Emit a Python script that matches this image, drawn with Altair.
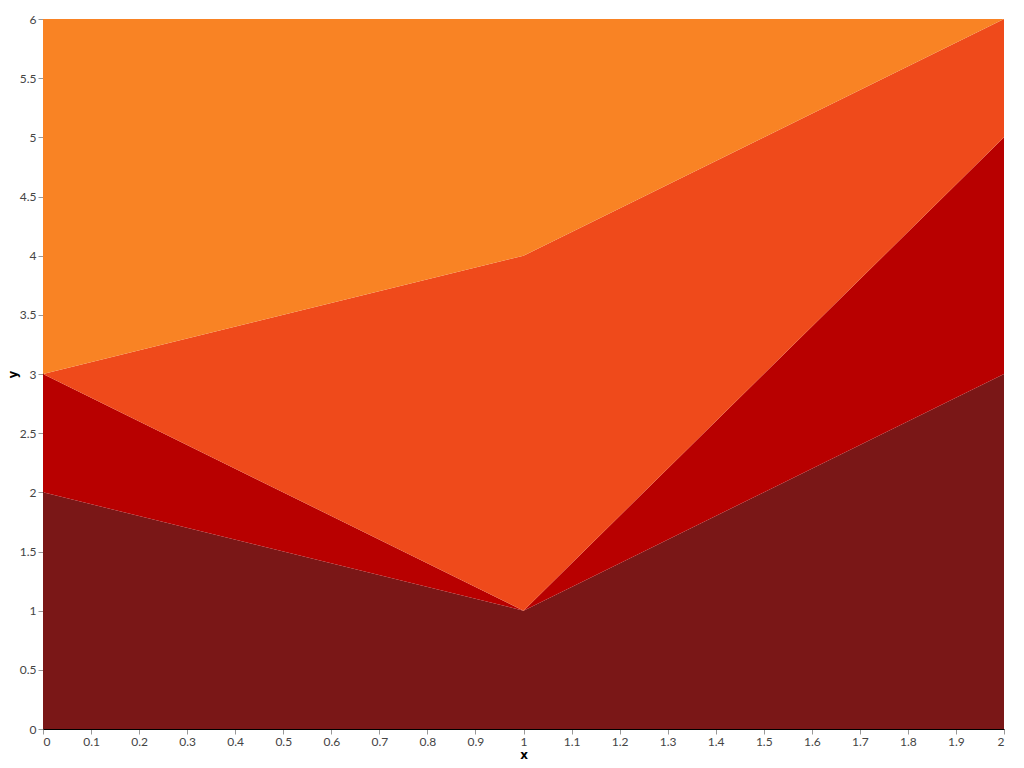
import altair as alt
import pandas as pd

xs = [0, 1, 2]
series = ["s1", "s2", "s3", "s4"]
s1 = [2, 1, 3]
s2 = [1, 0, 2]
s3 = [0, 3, 1]
s4 = [3, 2, 0]
colors = ["#7a1717", "#b80000", "#ef4a1b", "#f98324"]

rows = []
for i, (name, vals) in enumerate(zip(series, [s1, s2, s3, s4])):
    for x, v in zip(xs, vals):
        rows.append({"x": x, "value": v, "series": name, "ord": i})
df = pd.DataFrame(rows)

xticks = [round(i * 0.1, 1) for i in range(21)]
yticks = [round(i * 0.5, 1) for i in range(13)]

axis_common = dict(
    grid=False,
    domainColor="black",
    domainWidth=1,
    tickColor="#999999",
    tickSize=5,
    labelFont="Lato",
    labelFontSize=12,
    labelColor="#444444",
    labelPadding=2,
    titleFont="DejaVu Sans",
    titleFontSize=12,
    titleFontWeight="bold",
    titleColor="black",
)

chart = alt.Chart(df).mark_area(interpolate="linear").encode(
    x=alt.X("x:Q", scale=alt.Scale(domain=[0, 2], nice=False, zero=False),
            axis=alt.Axis(values=xticks, format=".1~f", title="x", titlePadding=2, **axis_common)),
    y=alt.Y("value:Q", stack="zero", scale=alt.Scale(domain=[0, 6], nice=False),
            axis=alt.Axis(values=yticks, format=".1~f", title="y", titleX=-31, titleY=355,
                          titleAngle=270, titleBaseline="middle", **axis_common)),
    color=alt.Color("series:N", scale=alt.Scale(domain=series, range=colors), legend=None),
    order=alt.Order("ord:Q"),
).properties(
    width=961, height=710,
    autosize=alt.AutoSizeParams(type="none"),
    padding={"left": 35, "top": 11, "right": 12, "bottom": 31},
).configure_view(stroke=None)

chart.save("out.html", embed_options={"renderer": "svg", "actions": False})
